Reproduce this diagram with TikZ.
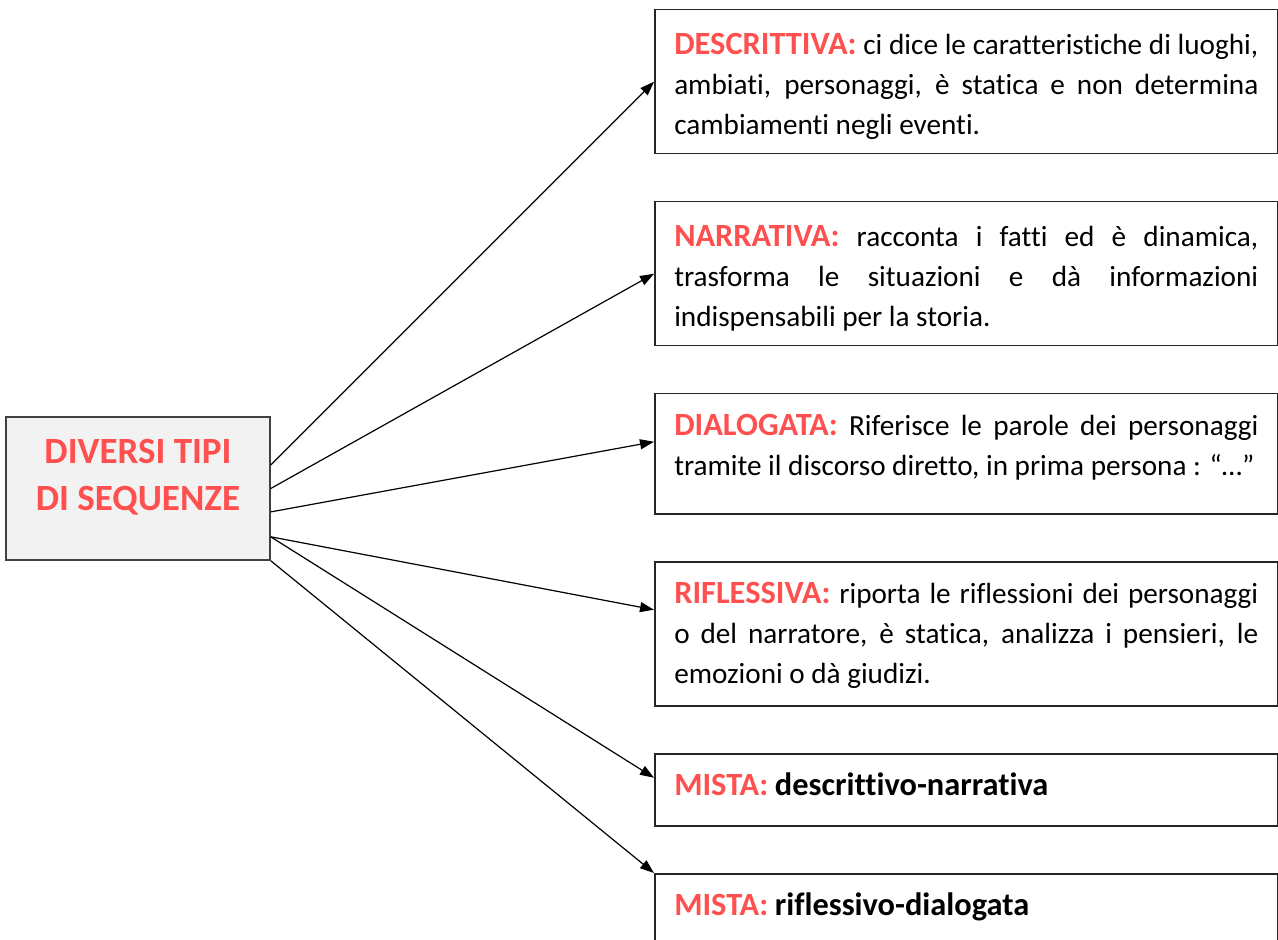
\documentclass[tikz,border=0pt]{standalone}
\usepackage{fontspec}
\setmainfont{Carlito}[Ligatures=NoCommon]
\usetikzlibrary{arrows.meta,calc}
\definecolor{seqred}{RGB}{255,80,80}
\definecolor{seqgrey}{RGB}{242,242,242}
\newcommand{\seqbold}[1]{{\fontsize{16.2}{20}\selectfont\bfseries #1}}
\newcommand{\seqname}[1]{\textcolor{seqred}{\seqbold{#1}}}
\newcommand{\fullline}[1]{\makebox[\linewidth][s]{#1}}
\tikzset{
	seqbox/.style={draw=black!85, line width=0.75pt, anchor=north west, inner ysep=0pt,
		minimum width=311.5pt, text width=292pt, inner xsep=9.75pt, align=justify,
		text height=21pt, text depth=#1-21pt,
		font=\fontsize{14.6}{20}\selectfont},
	seqbox/.default=72pt,
	titlebox/.style={draw=black!75, fill=seqgrey, line width=0.75pt, minimum width=132pt,
		minimum height=71.5pt},
	titletext/.style={align=center, text=seqred, inner sep=0pt,
		font=\fontsize{18.5}{23.5}\selectfont\bfseries}, 
	seqarrow/.style={line width=0.6pt, -{Triangle[length=7pt,width=5pt]}}
}
\begin{document}
\begin{tikzpicture}[x=0.5pt,y=-0.5pt]
	%%%%% START %%%%%
	\useasboundingbox (0,0) rectangle (1278,940);
	
	\node[titlebox] (main) at (138,488.5) {};
	\node[titletext] (maintext) at (138,477) {DIVERSI TIPI\\DI SEQUENZE};
	
	\node[seqbox, text height=22.5pt, text depth=49.5pt] (descr) at (654,9)
		{\fullline{\seqname{DESCRITTIVA:} ci dice le caratteristiche di luoghi,}\\
		\fullline{ambiati, personaggi, è statica e non determina}\\
		cambiamenti negli eventi.};
	\node[seqbox, text height=22.5pt, text depth=49.5pt] (narr) at (654,201)
		{\fullline{\seqname{NARRATIVA:} racconta i fatti ed è dinamica,}\\
		\fullline{trasforma le situazioni e dà informazioni}\\
		indispensabili per la storia.};
	\node[seqbox=60pt] (dial) at (654,393)
		{\fullline{\seqname{DIALOGATA:} Riferisce le parole dei personaggi}\\
		tramite il discorso diretto, in prima persona : “…”};
	\node[seqbox] (rifl) at (654,561)
		{\fullline{\seqname{RIFLESSIVA:} riporta le riflessioni dei personaggi}\\
		\fullline{o del narratore, è statica, analizza i pensieri, le}\\
		emozioni o dà giudizi.};
	\node[seqbox=36pt] (mistaA) at (654,753)
		{\seqname{MISTA:} \seqbold{descrittivo-narrativa}};
	\node[seqbox=36pt] (mistaB) at (654,873)
		{\seqname{MISTA:} \seqbold{riflessivo-dialogata}};
	
	\draw[seqarrow] (main.10) -- (descr.west);
	\draw[seqarrow] (main.0) -- (narr.west);
	\draw[seqarrow] (main.-10) -- ($(dial.west)+(0,-12)$);
	\draw[seqarrow] (main.-20) -- ($(rifl.west)+(0,-24)$);
	\draw[seqarrow] (main.-20) -- ($(mistaA.west)+(0,-12)$);
	\draw[seqarrow] (main.south east) -- (mistaB.north west);
	
	%%%%% END %%%%%
\end{tikzpicture}
\end{document}
